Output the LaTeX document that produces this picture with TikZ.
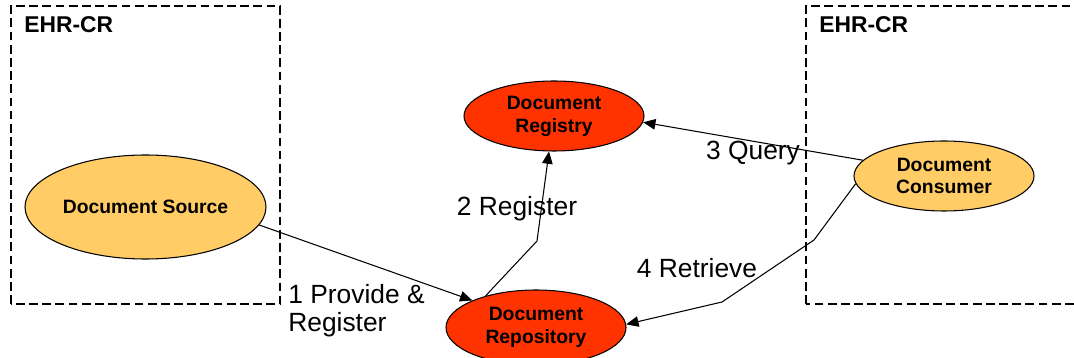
\documentclass[tikz,border=0pt]{standalone}
\usepackage{fontspec}
\setmainfont{Liberation Sans}
\usepackage{tikz}
\usetikzlibrary{shapes.geometric, arrows.meta, positioning, calc}
\definecolor{actyellow}{RGB}{255,204,102}
\definecolor{hubred}{RGB}{255,51,0}
\tikzset{
  actor/.style={ellipse, draw=black, fill=actyellow, line width=0.6pt,
    minimum width=3.6cm, minimum height=1.4cm, inner sep=0pt,
    align=center, font=\fontsize{11}{13}\selectfont\bfseries},
  hub/.style={ellipse, draw=black, fill=hubred, line width=0.6pt,
    minimum width=3.6cm, minimum height=1.4cm, inner sep=0pt,
    align=center, font=\fontsize{11}{13}\selectfont\bfseries},
  crbox/.style={draw=black, line width=1.3pt, dash pattern=on 5pt off 2.5pt},
  arrow/.style={-{Triangle[length=7pt,width=6pt]}, line width=0.6pt, color=black},
  step label/.style={font=\fontsize{15}{16}\selectfont, inner sep=0pt}
}

\begin{document}
\begin{tikzpicture}
  \clip (0,0) rectangle (21.48,7.16);

  % EHR-CR domains
  \draw[crbox] (0.22,1.08) rectangle (5.6,7.04);
  \draw[crbox] (16.12,1.08) rectangle (21.8,7.04);
  \node[anchor=west, inner sep=0pt, font=\fontsize{13}{15}\selectfont\bfseries] (dl) at (0.48,6.66) {EHR-CR};
  \node[anchor=west, inner sep=0pt, font=\fontsize{13}{15}\selectfont\bfseries] (dr) at (16.38,6.66) {EHR-CR};

  % Actors
  \node[actor, minimum width=4.82cm, minimum height=2.08cm] (src) at (2.91,3.02) {Document Source};
  \node[actor] (con) at (18.88,3.64) {Document\\Consumer};
  \node[hub] (reg) at (11.08,4.84) {Document\\Registry};
  \node[hub, minimum height=1.5cm] (rep) at (10.72,0.61) {Document\\Repository};

  % Bends
  \coordinate (k2) at (10.74,2.34);
  \coordinate (k4a) at (16.28,2.36);
  \coordinate (k4b) at (14.44,1.12);

  % Transactions
  \draw[arrow] (src.-9) -- (rep.157);
  \draw[arrow] (rep.148) -- (k2) -- (reg.262);
  \draw[arrow] (con.169) -- (reg.-4);
  \draw[arrow] (con.185) -- (k4a) -- (k4b) -- (rep.2);

  % Labels
  \node[step label, anchor=west, align=left] (l1) at (5.76,0.94) {1 Provide \&\\Register};
  \node[step label] (l2) at (10.34,2.98) {2 Register};
  \node[step label] (l3) at (15.06,4.1) {3 Query};
  \node[step label] (l4) at (13.94,1.8) {4 Retrieve};
\end{tikzpicture}
\end{document}
